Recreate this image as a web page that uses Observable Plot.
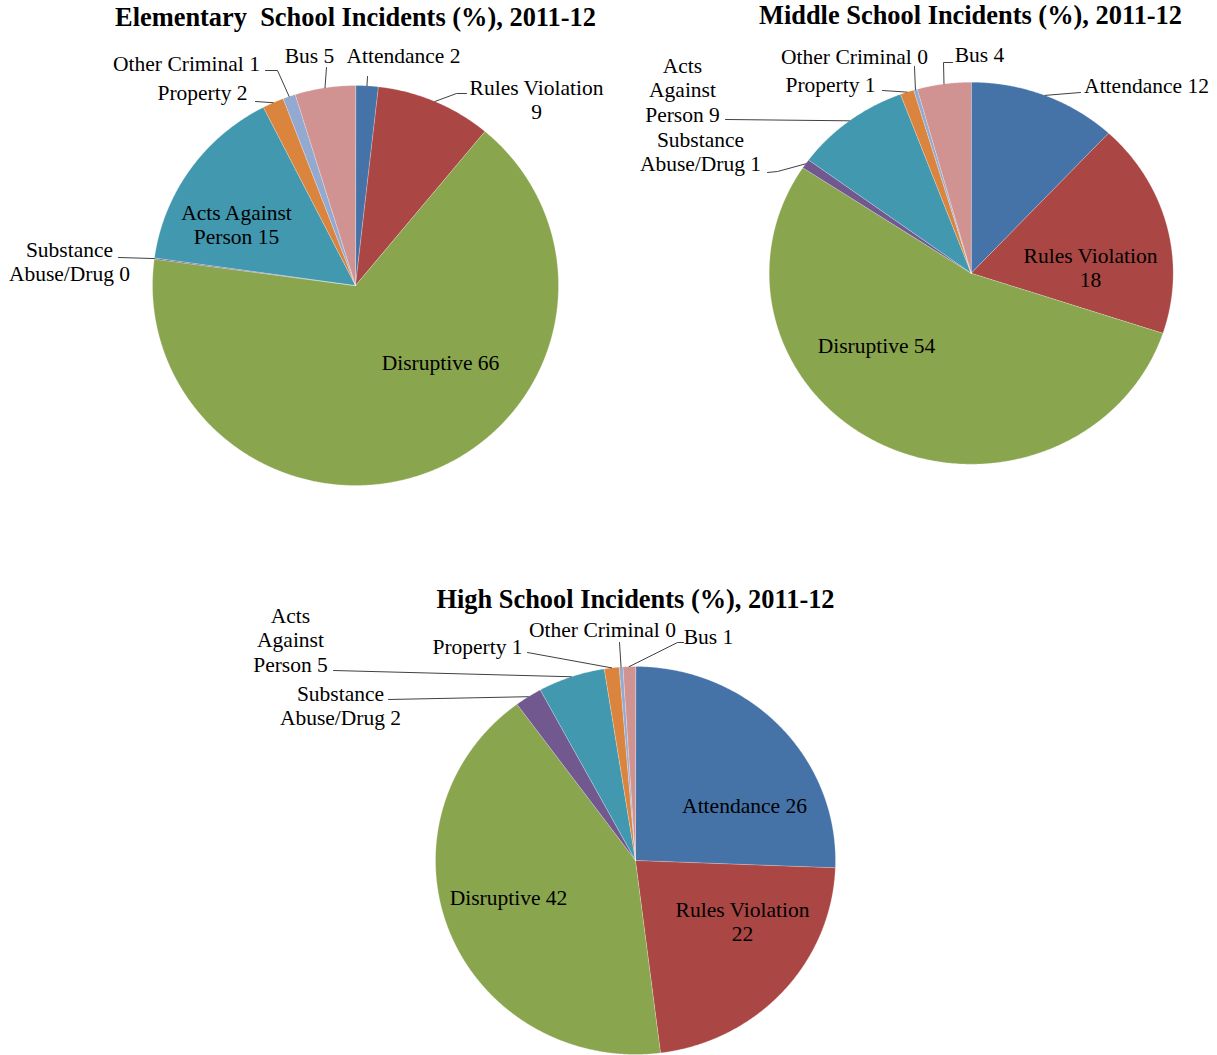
<!DOCTYPE html>
<html><head><meta charset="utf-8">
<script src="https://cdn.jsdelivr.net/npm/d3@7"></script>
<script src="https://cdn.jsdelivr.net/npm/@observablehq/plot@0.6"></script>
<style>html,body{margin:0;padding:0;background:#fff;} #chart svg{display:block;}</style>
</head><body><div id="chart"></div>
<script>
// ---------- data ----------
const categories = ["Attendance", "Rules Violation", "Disruptive", "Substance Abuse/Drug", "Acts Against Person", "Property", "Other Criminal", "Bus"];
const colors = ["#4572A7", "#AA4643", "#89A54E", "#71588F", "#4198AF", "#DB843D", "#93A9CF", "#D19392"];
const schools = ["Elementary", "Middle", "High"];
const titles = ["Elementary\u00a0 School Incidents (%), 2011-12", "Middle School Incidents (%), 2011-12", "High School Incidents (%), 2011-12"];
const elementaryValues = [1.8, 9.2, 66.1, 0.1, 15.3, 1.7, 1.0, 4.8];
const middleValues = [11.9, 18.2, 54.2, 0.8, 9.2, 1.1, 0.3, 4.3];
const highValues = [25.6, 22.4, 41.9, 2.2, 5.4, 1.2, 0.3, 1.0];
const schoolValues = [elementaryValues, middleValues, highValues];

// ---------- layout ----------
const W = 1217, H = 1055;
const FONT = "'Liberation Serif', 'Times New Roman', serif";
const pieLayout = {
  Elementary: {cx: 355, cy: 285, rx: 203, ry: 200, title: [355, 18]},
  Middle: {cx: 970.7, cy: 272.7, rx: 202, ry: 191, title: [970, 16]},
  High: {cx: 635, cy: 860, rx: 200, ry: 194, title: [635, 600]}
};
const labelLayout = {
  Elementary: {
    "Attendance": {at: [403, 56], lead: [[367, 76]]},
    "Rules Violation": {at: [536, 100], wrap: [2, 1], lead: [[466, 93], [456, 93]]},
    "Disruptive": {at: [440, 363]},
    "Substance Abuse/Drug": {at: [69, 262], wrap: [1, 2], lead: [[118, 257]]},
    "Acts Against Person": {at: [236, 225], wrap: [2, 2]},
    "Property": {at: [202, 93], lead: [[255, 101]]},
    "Other Criminal": {at: [186, 64], lead: [[265, 70], [277, 70]]},
    "Bus": {at: [309, 56], lead: [[326, 67]]}
  },
  Middle: {
    "Attendance": {at: [1146, 86], lead: [[1080, 92]]},
    "Rules Violation": {at: [1090, 268], wrap: [2, 1]},
    "Disruptive": {at: [876, 346]},
    "Substance Abuse/Drug": {at: [700, 152], wrap: [1, 2], lead: [[767, 172], [777, 171]]},
    "Acts Against Person": {at: [682, 90], wrap: [1, 1, 2], lead: [[725, 119]]},
    "Property": {at: [830, 85], lead: [[882, 90]]},
    "Other Criminal": {at: [854, 57], lead: [[914, 66]]},
    "Bus": {at: [979, 55], lead: [[952, 62], [943, 62]]}
  },
  High: {
    "Attendance": {at: [744, 806]},
    "Rules Violation": {at: [742, 922], wrap: [2, 1]},
    "Disruptive": {at: [508, 898]},
    "Substance Abuse/Drug": {at: [340, 706], wrap: [1, 2], lead: [[388, 699]]},
    "Acts Against Person": {at: [290, 640], wrap: [1, 1, 2], lead: [[333, 670]]},
    "Property": {at: [477, 647], lead: [[527, 652]]},
    "Other Criminal": {at: [602, 630], lead: [[619, 642]]},
    "Bus": {at: [708, 637], lead: [[683, 642], [677, 642]]}
  }
};

// ---------- derived geometry ----------
const slicePts = [], leaderPts = [], labels = [], titleRows = [];
const pie = d3.pie().sort(null).value(d => d.value);
schools.forEach((school, si) => {
  const L = pieLayout[school];
  titleRows.push({x: L.title[0], y: L.title[1], text: titles[si]});
  const rows = categories.map((c, i) => ({category: c, value: schoolValues[si][i]}));
  const pt = (a, f = 1) => [L.cx + L.rx * f * Math.sin(a), L.cy - L.ry * f * Math.cos(a)];
  pie(rows).forEach(arc => {
    const key = school + "|" + arc.data.category;
    const n = Math.max(2, Math.ceil((arc.endAngle - arc.startAngle) / 0.005));
    slicePts.push({key, category: arc.data.category, x: L.cx, y: L.cy});
    for (let k = 0; k <= n; k++) {
      const [x, y] = pt(arc.startAngle + (arc.endAngle - arc.startAngle) * k / n);
      slicePts.push({key, category: arc.data.category, x, y});
    }
    const lay = labelLayout[school][arc.data.category];
    const words = (arc.data.category + " " + Math.round(arc.data.value)).split(" ");
    const wrap = lay.wrap || [words.length];
    let idx = 0; const lines = [];
    wrap.forEach(w => { lines.push(words.slice(idx, idx + w).join(" ")); idx += w; });
    labels.push({x: lay.at[0], y: lay.at[1], text: lines.join("\n")});
    if (lay.lead) {
      const mid = (arc.startAngle + arc.endAngle) / 2;
      const [ex, ey] = pt(mid);
      lay.lead.forEach(([x, y]) => leaderPts.push({key, x, y}));
      leaderPts.push({key, x: ex, y: ey});
    }
  });
});

const chart = Plot.plot({
  width: W, height: H, margin: 0,
  x: {domain: [0, W], range: [0, W], axis: null},
  y: {domain: [0, H], range: [0, H], axis: null},
  color: {domain: categories, range: colors},
  style: {fontFamily: FONT, background: "#fff"},
  marks: [
    Plot.line(slicePts, {x: "x", y: "y", z: "key", fill: "category", stroke: "#fff", strokeWidth: 0.6, strokeOpacity: 0.45, curve: "linear-closed"}),
    Plot.line(leaderPts, {x: "x", y: "y", z: "key", stroke: "#404040", strokeWidth: 1}),
    Plot.text(labels, {x: "x", y: "y", dy: -1, text: "text", fontSize: 21.5, lineHeight: 1.13, fill: "#000", textAnchor: "middle", lineAnchor: "middle", fontFamily: FONT}),
    Plot.text(titleRows, {x: "x", y: "y", dy: -1, text: "text", fontSize: 26.4, fontWeight: "bold", fill: "#000", textAnchor: "middle", lineAnchor: "middle", fontFamily: FONT})
  ]
});
document.getElementById("chart").appendChild(chart);
</script>
</body></html>
